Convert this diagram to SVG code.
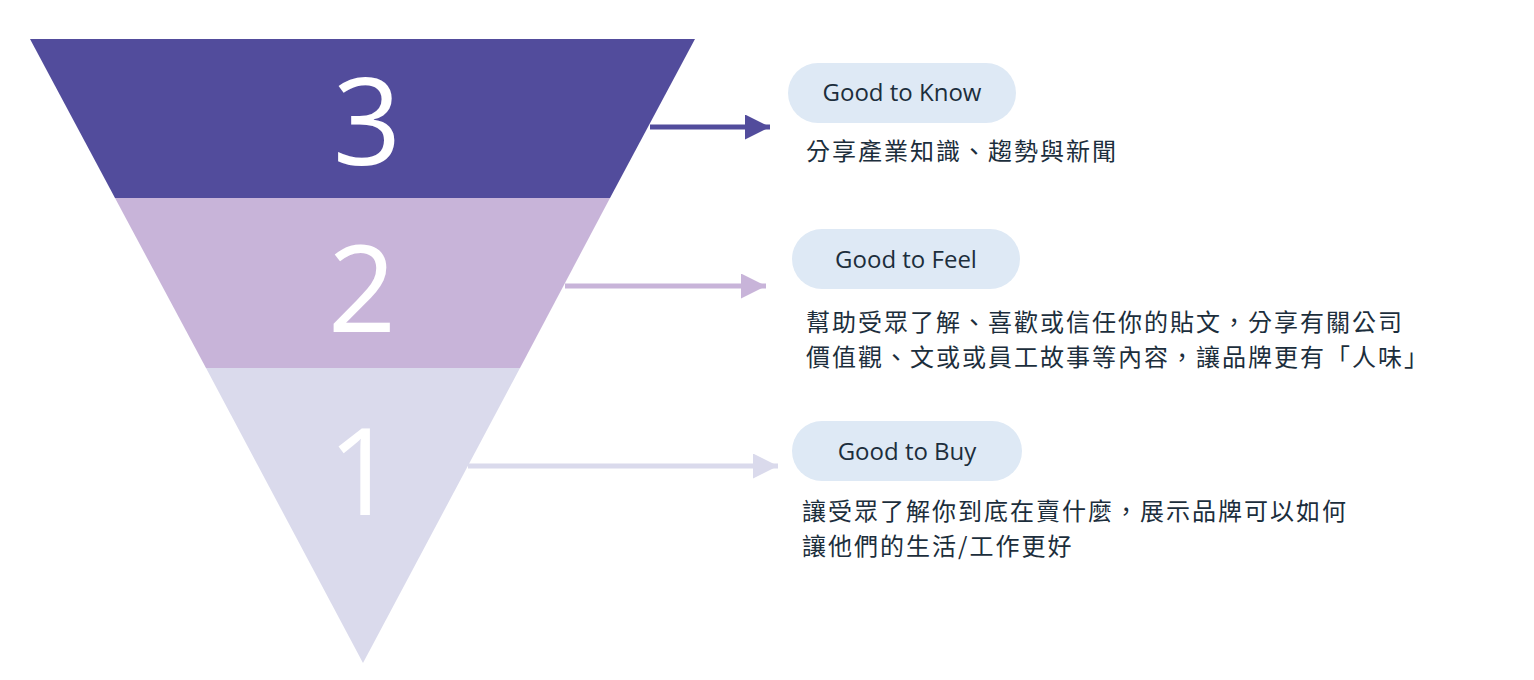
<svg xmlns="http://www.w3.org/2000/svg" width="1534" height="680" viewBox="0 0 1534 680">
<style>
.num{font-family:"Open Sans","Noto Sans",sans-serif;font-size:120px;fill:#fff;text-anchor:middle}
.pill{fill:#DEE9F5}
.pt{font-family:"Open Sans","Noto Sans",sans-serif;font-size:24px;fill:#1c2e3c;text-anchor:middle}
.zh{font-family:"Noto Sans CJK TC",sans-serif;font-size:24px;fill:#1c2e3c;letter-spacing:2px}
</style>
<defs>
<marker id="h3" viewBox="0 0 10 10" refX="10" refY="5" markerWidth="5" markerHeight="5" markerUnits="strokeWidth" orient="auto"><path d="M0,0L10,5L0,10z" fill="#524C9C"/></marker>
<marker id="h2" viewBox="0 0 10 10" refX="10" refY="5" markerWidth="5" markerHeight="5" markerUnits="strokeWidth" orient="auto"><path d="M0,0L10,5L0,10z" fill="#C8B4D9"/></marker>
<marker id="h1" viewBox="0 0 10 10" refX="10" refY="5" markerWidth="5" markerHeight="5" markerUnits="strokeWidth" orient="auto"><path d="M0,0L10,5L0,10z" fill="#DADAEC"/></marker>
</defs>
<g id="level3"><polygon points="30,39 695,39 610,198 115,198" fill="#524C9C"/><text class="num" x="367" y="165">3</text></g>
<g id="level2"><polygon points="115,198 610,198 520,368 206,368" fill="#C8B4D9"/><text class="num" x="362" y="332">2</text></g>
<g id="level1"><polygon points="206,368 520,368 363,663" fill="#DADAEC"/><text class="num" x="362" y="515">1</text></g>
<g id="connectors">
<line x1="650" y1="127" x2="770" y2="127" stroke="#524C9C" stroke-width="5" marker-end="url(#h3)"/>
<line x1="565" y1="286" x2="766" y2="286" stroke="#C8B4D9" stroke-width="5" marker-end="url(#h2)"/>
<line x1="468" y1="466" x2="778" y2="466" stroke="#DADAEC" stroke-width="5" marker-end="url(#h1)"/>
</g>
<g id="know"><rect class="pill" x="788" y="63" width="228" height="60" rx="30"/><text class="pt" x="902" y="101">Good to Know</text>
<text class="zh" x="806" y="160">分享產業知識、趨勢與新聞</text></g>
<g id="feel"><rect class="pill" x="792" y="229" width="228" height="60" rx="30"/><text class="pt" x="906" y="268">Good to Feel</text>
<text class="zh" x="806" y="331">幫助受眾了解、喜歡或信任你的貼文，分享有關公司</text>
<text class="zh" x="806" y="366">價值觀、文或或員工故事等內容，讓品牌更有「人味」</text></g>
<g id="buy"><rect class="pill" x="792" y="421" width="230" height="60" rx="30"/><text class="pt" x="907" y="460">Good to Buy</text>
<text class="zh" x="802" y="520">讓受眾了解你到底在賣什麼，展示品牌可以如何</text>
<text class="zh" x="802" y="555">讓他們的生活/工作更好</text></g>
</svg>
